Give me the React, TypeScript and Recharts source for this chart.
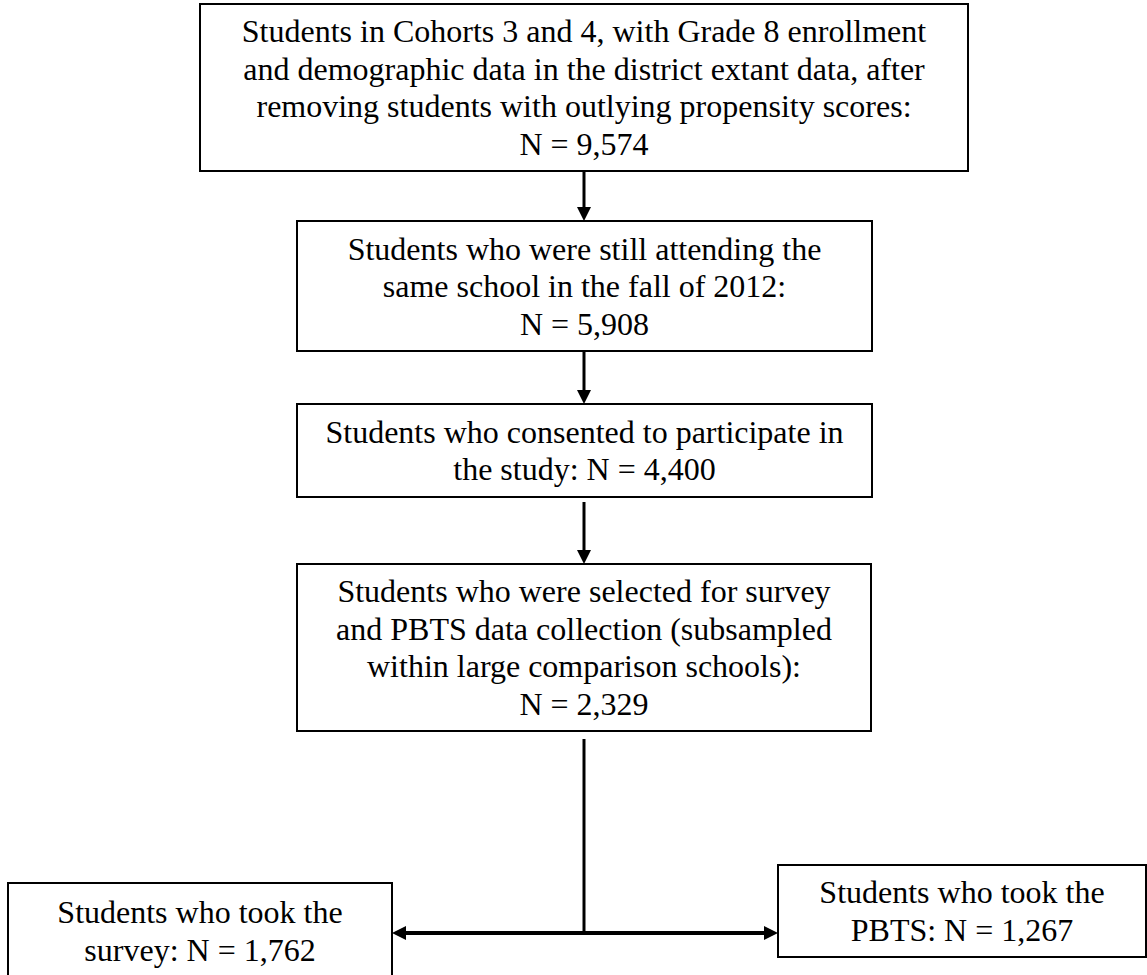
import { ComposedChart, XAxis, YAxis, ReferenceArea, ReferenceLine, Scatter } from 'recharts';

// text of each step (N is filled in from stepCounts)
const stepLines: string[][] = [
  [
    'Students in Cohorts 3 and 4, with Grade 8 enrollment',
    'and demographic data in the district extant data, after',
    'removing students with outlying propensity scores:',
    '{n}',
  ],
  ['Students who were still attending the', 'same school in the fall of 2012:', '{n}'],
  ['Students who consented to participate in', 'the study: {n}'],
  [
    'Students who were selected for survey',
    'and PBTS data collection (subsampled',
    'within large comparison schools):',
    '{n}',
  ],
  ['Students who took the', 'survey: {n}'],
  ['Students who took the', 'PBTS: {n}'],
];
const stepCounts = [9574, 5908, 4400, 2329, 1762, 1267];

// layout (page pixels)
const W = 1147;
const H = 975;
const boxes = [
  { x1: 200, x2: 968, y1: 4, y2: 171 },
  { x1: 297, x2: 872, y1: 221, y2: 351 },
  { x1: 297, x2: 872, y1: 404, y2: 497 },
  { x1: 297, x2: 871, y1: 564, y2: 731 },
  { x1: 8, x2: 392, y1: 883, y2: 979 },
  { x1: 778, x2: 1146, y1: 865, y2: 957 },
];
const arrows = [
  { from: { x: 584, y: 171 }, to: { x: 584, y: 221 }, head: true, w: 3 },
  { from: { x: 584, y: 351 }, to: { x: 584, y: 404 }, head: true, w: 3 },
  { from: { x: 584, y: 502 }, to: { x: 584, y: 564 }, head: true, w: 3 },
  { from: { x: 584, y: 739 }, to: { x: 584, y: 934 }, head: false, w: 3 },
  { from: { x: 586, y: 933 }, to: { x: 392, y: 933 }, head: true, w: 4 },
  { from: { x: 582, y: 933 }, to: { x: 778, y: 933 }, head: true, w: 4 },
];

const FONT = '"Times New Roman", "Liberation Serif", serif';
const FONT_SIZE = 32;
const LINE_H = 37.5;

const fmt = (n: number) => 'N = ' + n.toLocaleString('en-US');

function boxShape(lines: string[]) {
  return (p: any) => {
    const { x, y, width, height } = p;
    const cx = x + width / 2;
    const cy = y + height / 2;
    return (
      <g>
        <rect x={x} y={y} width={width} height={height} fill="#fff" stroke="#000" strokeWidth={2} />
        {lines.map((t, i) => (
          <text
            key={i}
            x={cx}
            y={cy + (i - (lines.length - 1) / 2) * LINE_H + 11}
            textAnchor="middle"
            fontFamily={FONT}
            fontSize={FONT_SIZE}
            fill="#000"
          >
            {t}
          </text>
        ))}
      </g>
    );
  };
}

function arrowShape(head: boolean, w: number) {
  return (p: any) => {
    const { x1, y1, x2, y2 } = p;
    const dx = x2 - x1;
    const dy = y2 - y1;
    const len = Math.hypot(dx, dy) || 1;
    const ux = dx / len;
    const uy = dy / len;
    const hl = 14;
    const hw = 7;
    const bx = x2 - ux * hl;
    const by = y2 - uy * hl;
    return (
      <g>
        <line
          x1={x1}
          y1={y1}
          x2={head ? bx : x2}
          y2={head ? by : y2}
          stroke="#000"
          strokeWidth={w}
        />
        {head && (
          <polygon
            points={`${x2},${y2} ${bx - uy * hw},${by + ux * hw} ${bx + uy * hw},${by - ux * hw}`}
            fill="#000"
          />
        )}
      </g>
    );
  };
}

const anchors = boxes.map((b) => ({ x: (b.x1 + b.x2) / 2, y: (b.y1 + b.y2) / 2 }));

export default function App() {
  return (
    <div style={{ position: 'absolute', left: 0, top: 0, width: W, height: H, background: '#fff' }}>
      <ComposedChart width={W} height={H} data={anchors} margin={{ top: 0, right: 0, bottom: 0, left: 0 }}>
        <XAxis type="number" dataKey="x" domain={[0, W]} hide allowDataOverflow />
        <YAxis type="number" dataKey="y" domain={[0, H]} reversed hide allowDataOverflow />
        <Scatter data={anchors} dataKey="y" shape={() => <g />} isAnimationActive={false} />
        {arrows.map((a, i) => (
          <ReferenceLine
            key={'a' + i}
            segment={[a.from, a.to]}
            ifOverflow="visible"
            shape={arrowShape(a.head, a.w)}
          />
        ))}
        {boxes.map((b, i) => (
          <ReferenceArea
            key={'b' + i}
            x1={b.x1}
            x2={b.x2}
            y1={b.y1}
            y2={b.y2}
            ifOverflow="visible"
            shape={boxShape(stepLines[i].map((t) => t.replace('{n}', fmt(stepCounts[i]))))}
          />
        ))}
      </ComposedChart>
    </div>
  );
}
